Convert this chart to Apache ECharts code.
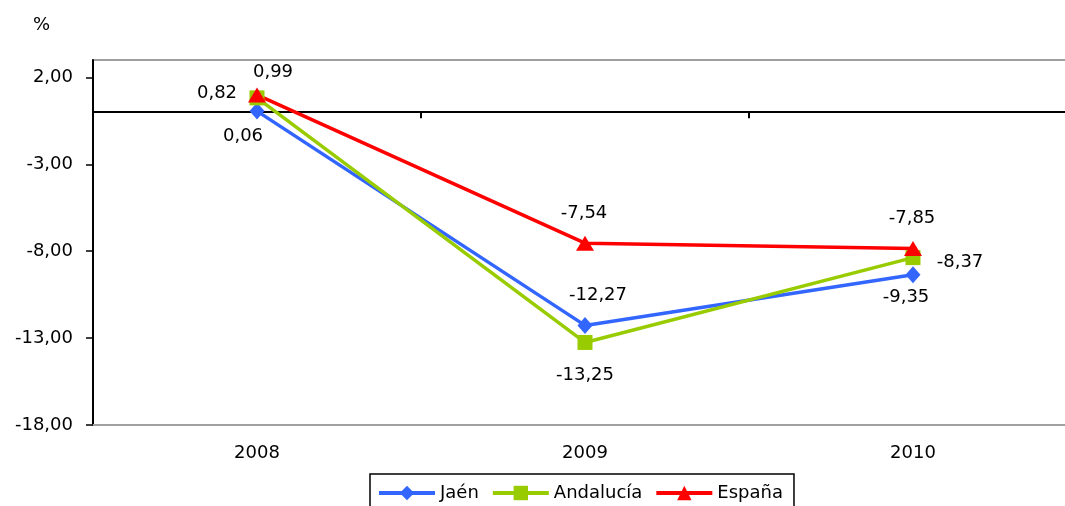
<!DOCTYPE html>
<html>
<head>
<meta charset="utf-8">
<script src="https://cdn.jsdelivr.net/npm/echarts@6/dist/echarts.min.js"></script>
<style>html,body{margin:0;padding:0;background:#fff;overflow:hidden;width:1065px;height:506px;}#c{width:1090px;height:506px;}</style>
</head>
<body>
<div id="c"></div>
<script>
var categories = ['2008', '2009', '2010'];
var jaen = [0.06, -12.27, -9.35];
var andalucia = [0.82, -13.25, -8.37];
var espana = [0.99, -7.54, -7.85];
var yTicks = [-18, -13, -8, -3, 2];

// label offsets (style only)
var offsets = {
  jaen: [[-14, 25], [13, -30], [-7, 23]],
  andalucia: [[-40, -5], [0, 33], [47, 5]],
  espana: [[16, -23], [-1, -30], [-1, -30]]
};

var FONT = 'DejaVu Sans';
function fmt(v) { return v.toFixed(2).replace('.', ','); }

function mkSeries(name, values, color, symbol, size, offs) {
  return {
    name: name,
    type: 'line',
    xAxisIndex: 0,
    data: values.map(function (v, i) {
      return { value: v, label: { offset: offs[i] } };
    }),
    symbol: symbol,
    symbolSize: size,
    lineStyle: { color: color, width: 3.5 },
    itemStyle: { color: color },
    label: {
      show: true,
      position: 'inside',
      color: '#000',
      fontFamily: FONT,
      fontSize: 18,
      formatter: function (p) { return fmt(p.value); }
    },
    emphasis: { disabled: true },
    animation: false
  };
}

var chart = echarts.init(document.getElementById('c'));
chart.setOption({
  backgroundColor: '#fff',
  animation: false,
  title: {
    text: '%', left: 28, top: 11,
    textStyle: { fontFamily: FONT, fontSize: 18, fontWeight: 'normal', color: '#000' }
  },
  grid: {
    left: 93, top: 60, width: 984, height: 365,
    show: true, borderColor: '#a0a0a0', borderWidth: 2, backgroundColor: 'transparent'
  },
  legend: {
    left: 370, top: 474,
    itemWidth: 56, itemHeight: 18, itemGap: 12,
    padding: [10, 11, 8, 7],
    borderColor: '#000', borderWidth: 1.5,
    lineStyle: { width: 4 },
    textStyle: { fontFamily: FONT, fontSize: 18, color: '#000' },
    data: ['Jaén', 'Andalucía', 'España']
  },
  xAxis: [
    {
      type: 'category', data: categories, position: 'bottom',
      boundaryGap: true,
      axisLine: { onZero: false, lineStyle: { color: '#a0a0a0', width: 2 } },
      axisTick: { show: false },
      axisLabel: { color: '#000', fontFamily: FONT, fontSize: 18, margin: 19 },
      splitLine: { show: false }
    },
    {
      type: 'category', data: categories, position: 'bottom',
      boundaryGap: true,
      axisLine: { onZero: true, lineStyle: { color: '#000', width: 2 } },
      axisTick: { show: true, length: 6, lineStyle: { color: '#000', width: 2 } },
      axisLabel: { show: false },
      splitLine: { show: false }
    }
  ],
  yAxis: {
    type: 'value', min: -18, max: 3, interval: 5,
    axisLine: { show: true, lineStyle: { color: '#000', width: 2 } },
    axisTick: { show: true, length: 7, customValues: yTicks, lineStyle: { color: '#000', width: 1.5 } },
    axisLabel: {
      customValues: yTicks,
      color: '#000', fontFamily: FONT, fontSize: 18, margin: 20,
      formatter: function (v) { return fmt(v); }
    },
    splitLine: { show: false }
  },
  series: [
    mkSeries('Jaén', jaen, '#3366FF', 'diamond', [15, 17], offsets.jaen),
    mkSeries('Andalucía', andalucia, '#99CC00', 'rect', 15, offsets.andalucia),
    mkSeries('España', espana, '#FF0000', 'triangle', [18, 15], offsets.espana)
  ]
});
</script>
</body>
</html>
